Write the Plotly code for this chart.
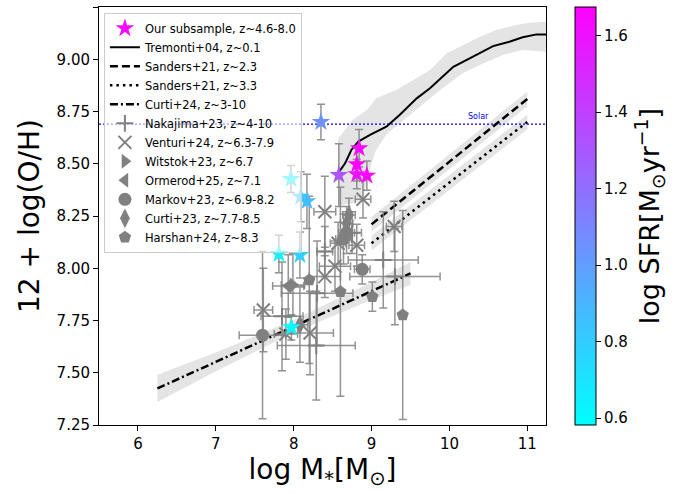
import plotly.graph_objects as go

# ---------------- data ----------------
# Our subsample (stars, coloured by log SFR)
star_mass = [8.84, 8.81, 8.81, 8.94, 8.58, 8.35, 7.965, 8.09, 8.17, 7.81, 8.08, 7.97]
star_oh = [8.574, 8.497, 8.450, 8.443, 8.446, 8.700, 8.427, 8.342, 8.320, 8.068, 8.063, 7.717]
star_oh_err = [0.09, 0.08, 0.07, 0.07, 0.15, 0.085, 0.065, 0.12, 0.13, 0.09, 0.11, 0.06]
star_sfr = [1.64, 1.675, 1.60, 1.66, 1.32, 1.05, 0.68, 0.83, 0.86, 0.62, 0.78, 0.582]

# Tremonti+04 median relation and its scatter
trem_mass = [8.57, 8.66, 8.74, 8.83, 8.98, 9.19, 9.36, 9.58, 9.75, 9.92, 10.05, 10.26,
             10.56, 10.77, 10.94, 11.12, 11.24]
trem_oh = [8.454, 8.502, 8.566, 8.606, 8.638, 8.677, 8.733, 8.813, 8.861, 8.917, 8.964,
           9.004, 9.063, 9.084, 9.105, 9.119, 9.119]
trem_up_mass = [8.57, 8.76, 8.94, 9.06, 9.32, 9.58, 9.75, 9.96, 10.17, 10.39, 10.60, 10.86, 11.03, 11.24]
trem_up_oh = [8.62, 8.71, 8.757, 8.813, 8.853, 8.909, 8.949, 9.028, 9.068, 9.108, 9.14, 9.164, 9.175, 9.18]
trem_lo_mass = [8.57, 8.75, 8.89, 8.96, 9.05, 9.19, 9.41, 9.62, 9.88, 10.17, 10.43, 10.69, 10.94, 11.24]
trem_lo_oh = [8.30, 8.31, 8.33, 8.45, 8.56, 8.64, 8.71, 8.773, 8.853, 8.933, 8.98, 9.02, 9.044, 9.036]

# Sanders+21 relations (z~2.3 and z~3.3)
san23_mass = [9.0, 11.0]
san23_oh = [8.21, 8.81]
san33_mass = [9.0, 11.0]
san33_oh = [8.12, 8.70]
san_halfwidth = [0.035, 0.035]

# Curti+24 relation
curti24_mass = [6.25, 7.0, 8.0, 9.0, 9.5]
curti24_oh = [7.425, 7.552, 7.722, 7.891, 7.975]
curti24_halfwidth = [0.065, 0.045, 0.03, 0.042, 0.055]

solar_oh = 8.69

# Literature samples
nak_mass = [9.15, 9.30, 8.29, 7.85, 8.30, 8.40, 8.75]
nak_oh = [8.04, 7.96, 7.63, 7.77, 7.88, 8.08, 8.17]
nak_xerr = [0.45, 0.58, 0.50, 0.27, 0.46, 0.10, 0.12]
nak_yerr = [0.23, 0.23, 0.26, 0.26, 0.25, 0.12, 0.10]

ven_mass = [8.40, 8.89, 9.29, 8.57, 8.81, 8.40, 8.53, 7.61, 7.90, 8.21]
ven_oh = [8.27, 8.33, 8.20, 8.12, 8.11, 7.96, 8.01, 7.80, 7.685, 7.69]
ven_xerr = [0.14, 0.10, 0.10, 0.10, 0.10, 0.20, 0.20, 0.12, 0.15, 0.30]
ven_yerr = [0.17, 0.09, 0.12, 0.10, 0.10, 0.10, 0.12, 0.20, 0.12, 0.20]

wit_mass = [7.99]
wit_oh = [7.92]
wit_xerr = [0.15]
wit_yerr = [0.15]

orm_mass = [7.93]
orm_oh = [7.915]
orm_xerr = [0.20]
orm_yerr = [0.15]

mar_mass = [8.88, 8.68, 8.64, 7.60]
mar_oh = [7.995, 8.17, 8.14, 7.68]
mar_xerr = [0.10, 0.10, 0.10, 0.30]
mar_yerr = [0.07, 0.10, 0.12, 0.40]

cur23_mass = [8.71, 8.68, 8.08]
cur23_oh = [8.255, 8.215, 7.73]
cur23_xerr = [0.08, 0.08, 0.10]
cur23_yerr = [0.08, 0.08, 0.18]

har_mass = [9.40, 9.01, 8.60, 8.20]
har_oh = [7.776, 7.864, 7.888, 7.944]
har_yerr = [0.50, 0.07, 0.50, 0.40]

# ---------------- figure ----------------
BAND = "rgb(228,228,228)"
GREY = "rgb(128,128,128)"
ERR = "rgba(128,128,128,0.85)"

fig = go.Figure()


def band(xs, lo, hi):
    return go.Scatter(x=list(xs) + list(xs)[::-1], y=list(hi) + list(lo)[::-1],
                      fill="toself", fillcolor=BAND, line=dict(width=0),
                      mode="lines", hoverinfo="skip", showlegend=False)


# shaded scatter around each relation
fig.add_trace(go.Scatter(x=trem_up_mass + trem_lo_mass[::-1], y=trem_up_oh + trem_lo_oh[::-1],
                         fill="toself", fillcolor=BAND, line=dict(width=0), mode="lines",
                         hoverinfo="skip", showlegend=False))
fig.add_trace(band(san23_mass, [v - h for v, h in zip(san23_oh, san_halfwidth)],
                   [v + h for v, h in zip(san23_oh, san_halfwidth)]))
fig.add_trace(band(san33_mass, [v - h for v, h in zip(san33_oh, san_halfwidth)],
                   [v + h for v, h in zip(san33_oh, san_halfwidth)]))
fig.add_trace(band(curti24_mass, [v - h for v, h in zip(curti24_oh, curti24_halfwidth)],
                   [v + h for v, h in zip(curti24_oh, curti24_halfwidth)]))

# solar abundance
fig.add_trace(go.Scatter(x=[5.5, 11.24], y=[solar_oh, solar_oh], mode="lines",
                         line=dict(color="blue", width=1.2, dash="2px,2px"),
                         hoverinfo="skip", showlegend=False))
fig.add_annotation(x=10.37, y=solar_oh, text="Solar", showarrow=False, yanchor="bottom",
                   yshift=1, font=dict(size=8, color="blue"))

# relations
fig.add_trace(go.Scatter(x=trem_mass, y=trem_oh, mode="lines", name="Tremonti+04, z~0.1",
                         line=dict(color="black", width=2), legendrank=2))
fig.add_trace(go.Scatter(x=san23_mass, y=san23_oh, mode="lines", name="Sanders+21, z~2.3",
                         line=dict(color="black", width=2.5, dash="8px,4px"), legendrank=3))
fig.add_trace(go.Scatter(x=san33_mass, y=san33_oh, mode="lines", name="Sanders+21, z~3.3",
                         line=dict(color="black", width=2.5, dash="2.5px,4px"), legendrank=4))
fig.add_trace(go.Scatter(x=curti24_mass, y=curti24_oh, mode="lines", name="Curti+24, z~3-10",
                         line=dict(color="black", width=2.5, dash="8px,3px,2px,3px"), legendrank=5))


def sample(xs, ys, xerr, yerr, name, symbol, size, rank, open_sym=False):
    if open_sym:
        marker = dict(symbol=symbol, size=size, color=GREY, line=dict(color=GREY, width=2))
    else:
        marker = dict(symbol=symbol, size=size, color=GREY, line=dict(width=0))
    ex = dict(type="data", array=xerr, color=ERR, thickness=1.5, width=4) if xerr else dict(visible=False)
    ey = dict(type="data", array=yerr, color=ERR, thickness=1.5, width=4)
    return go.Scatter(x=xs, y=ys, mode="markers", name=name, marker=marker,
                      error_x=ex, error_y=ey, legendrank=rank)


fig.add_trace(sample(nak_mass, nak_oh, nak_xerr, nak_yerr, "Nakajima+23, z~4-10",
                     "cross-thin-open", 12, 6, open_sym=True))
fig.add_trace(sample(ven_mass, ven_oh, ven_xerr, ven_yerr, "Venturi+24, z~6.3-7.9",
                     "x-thin-open", 13, 7, open_sym=True))
fig.add_trace(sample(wit_mass, wit_oh, wit_xerr, wit_yerr, "Witstok+23, z~6.7",
                     "triangle-right", 13, 8))
fig.add_trace(sample(orm_mass, orm_oh, orm_xerr, orm_yerr, "Ormerod+25, z~7.1",
                     "triangle-left", 13, 9))
fig.add_trace(sample(mar_mass, mar_oh, mar_xerr, mar_yerr, "Markov+23, z~6.9-8.2",
                     "circle", 13, 10))
fig.add_trace(sample(cur23_mass, cur23_oh, cur23_xerr, cur23_yerr, "Curti+23, z~7.7-8.5",
                     "diamond-tall", 14, 11))
fig.add_trace(sample(har_mass, har_oh, None, har_yerr, "Harshan+24, z~8.3",
                     "pentagon", 13, 12))

# our subsample
fig.add_trace(go.Scatter(
    x=star_mass, y=star_oh, mode="markers", name="Our subsample, z~4.6-8.0",
    error_y=dict(type="data", array=star_oh_err, color=ERR, thickness=1.5, width=4),
    marker=dict(symbol="star", size=14, color=star_sfr, cmin=0.582, cmax=1.675,
                colorscale=[[0, "rgb(0,255,255)"], [1, "rgb(255,0,255)"]],
                line=dict(width=0),
                colorbar=dict(x=1.065, xanchor="left", xpad=0, ypad=0, y=0.5, yanchor="middle",
                              len=1, lenmode="fraction", thickness=21,
                              outlinecolor="black", outlinewidth=1,
                              tickvals=[0.6, 0.8, 1.0, 1.2, 1.4, 1.6],
                              ticktext=["0.6", "0.8", "1.0", "1.2", "1.4", "1.6"],
                              ticks="outside", ticklen=5, tickcolor="black",
                              tickfont=dict(size=15, color="black"),
                              title=dict(text="log SFR[M<sub>⊙</sub>yr<sup>−1</sup>]",
                                         side="right", font=dict(size=27, color="black")))),
    legendrank=1))

axis_common = dict(showgrid=False, zeroline=False, showline=True, linecolor="black",
                   linewidth=1, mirror=True, ticks="outside", ticklen=5, tickwidth=1,
                   tickcolor="black", tickfont=dict(size=15, color="black"))

fig.update_layout(
    width=692, height=493,
    margin=dict(l=99, r=146, t=7, b=68),
    paper_bgcolor="white", plot_bgcolor="white",
    font=dict(family="DejaVu Sans", color="black"),
    xaxis=dict(range=[5.5, 11.24], tickvals=[6, 7, 8, 9, 10, 11],
               title=dict(text="log M<sub>*</sub>[M<sub>⊙</sub>]", font=dict(size=28), standoff=4),
               **axis_common),
    yaxis=dict(range=[7.25, 9.25], tickvals=[7.25, 7.5, 7.75, 8.0, 8.25, 8.5, 8.75, 9.0, 9.25],
               ticktext=["7.25", "7.50", "7.75", "8.00", "8.25", "8.50", "8.75", "9.00", "9.25"],
               title=dict(text="12 + log(O/H)", font=dict(size=28), standoff=8),
               **axis_common),
    legend=dict(x=0.011, y=0.986, xanchor="left", yanchor="top", bgcolor="rgba(255,255,255,0.6)",
                bordercolor="#cccccc", borderwidth=1, font=dict(size=11.5),
                itemsizing="trace", traceorder="normal"),
    showlegend=True,
)

fig.write_html("out.html")
